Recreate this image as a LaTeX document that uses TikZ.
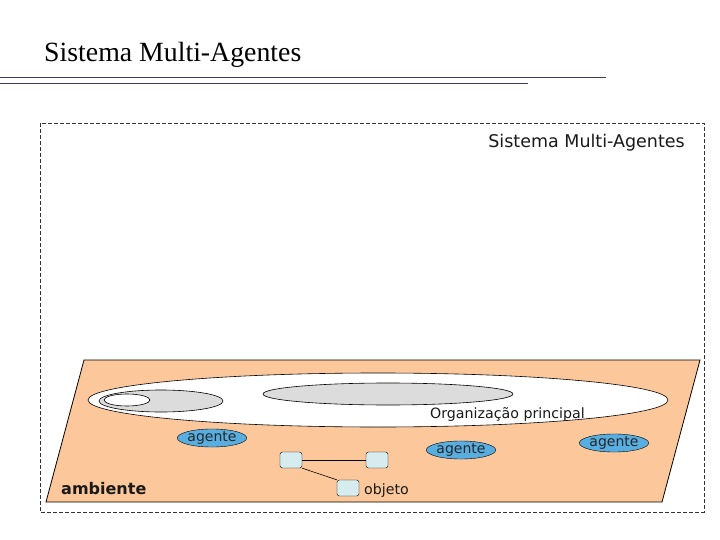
\documentclass[tikz,border=0pt]{standalone}
\usepackage{fontspec}
\usetikzlibrary{shapes.geometric}
\setmainfont{Liberation Serif}
\newfontfamily\lblfont{DejaVu Sans}
\begin{document}
\begin{tikzpicture}[x=1pt,y=-1pt,
  lbl/.style={font=\lblfont\fontsize{14.2}{16}\selectfont, inner sep=0pt, text=black!90},
  agent/.style={ellipse, draw=black, fill=agentblue, minimum width=66pt, minimum height=17pt, inner sep=0pt, font=\lblfont\fontsize{14}{15}\selectfont, text=black!85},
  obj/.style={rounded corners=2.5pt, draw=black, fill=objcyan, minimum width=22pt, minimum height=16pt, inner sep=0pt},
  conn/.style={draw=black, line width=0.6pt}
]
\definecolor{agentblue}{HTML}{58AEE0}
\definecolor{objcyan}{HTML}{D6ECEE}
\definecolor{envorange}{HTML}{FCC89B}
\definecolor{rulecol}{HTML}{3C3C52}
\definecolor{orggray}{HTML}{DCDCDC}
\useasboundingbox (0,0) rectangle (720,540);
\fill[white] (0,0) rectangle (720,540);
% title
\node[anchor=base west, inner sep=0pt, font=\fontsize{27.8}{30}\selectfont] (title) at (44,62) {Sistema Multi-Agentes};
\draw[rulecol, line width=1pt] (0,78) -- (606,78);
\draw[rulecol, line width=1pt] (0,84) -- (528,84);
% dashed frame
\draw[dashed, black!80, line width=0.7pt, dash pattern=on 4pt off 2pt] (40,123) rectangle (704,512);
\node[lbl, anchor=base east, font=\lblfont\fontsize{17.5}{19}\selectfont] (sma) at (685,148) {Sistema Multi-Agentes};
% environment
\draw[fill=envorange, draw=black, line width=0.8pt] (84,360) -- (700,360) -- (662,502) -- (46,502) -- cycle;
% organisation
\draw[fill=white, draw=black, line width=0.6pt] (378,400) ellipse [x radius=290, y radius=27];
\draw[fill=orggray, draw=black, line width=0.6pt] (161,401) ellipse [x radius=62, y radius=11];
\draw[fill=white, draw=black, line width=0.6pt] (127,400) ellipse [x radius=23, y radius=6];
\draw[fill=orggray, draw=black, line width=0.6pt] (388,394) ellipse [x radius=125, y radius=11];
\node[lbl, anchor=base west] (org) at (430,418) {Organização principal};
% agents
\node[agent] (a1) at (212,438) {agente};
\node[agent] (a2) at (461,450) {agente};
\node[agent] (a3) at (614,443) {agente};
% objects
\node[obj] (o1) at (291,460) {};
\node[obj] (o2) at (377,460) {};
\node[obj] (o3) at (348,488) {};
\draw[conn] (o1.east) -- (o2.west);
\draw[conn] (o1.south east) -- (o3.north west);
\node[lbl, anchor=base west] (objl) at (364,494) {objeto};
\node[lbl, anchor=base west, font=\lblfont\bfseries\fontsize{16}{18}\selectfont] (amb) at (61,494) {ambiente};
\end{tikzpicture}
\end{document}
